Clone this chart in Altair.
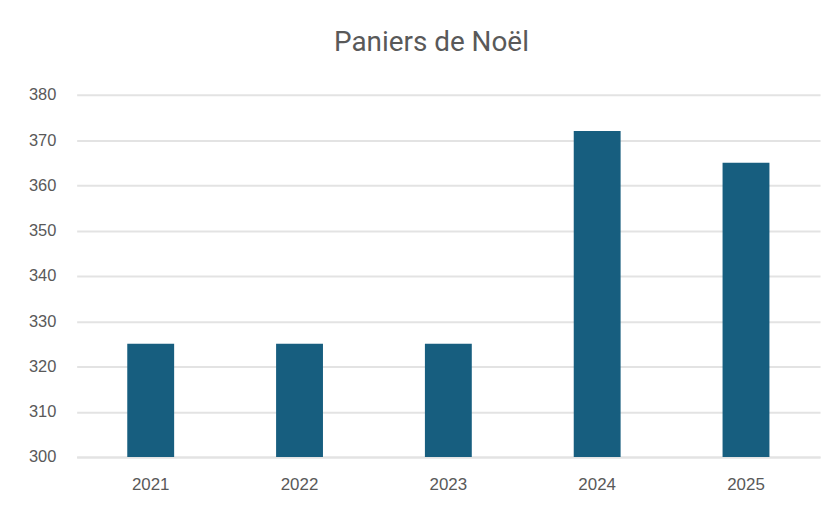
import altair as alt
import pandas as pd

years = ["2021", "2022", "2023", "2024", "2025"]
values = [325, 325, 325, 372, 365]
baseline = 300

df = pd.DataFrame({"year": years, "value": values})

chart = alt.Chart(df).mark_bar(color="#175e7f", clip=True).encode(
    x=alt.X("year:N", sort=years, title=None,
            scale=alt.Scale(paddingInner=0.685, paddingOuter=0.34),
            axis=alt.Axis(labelAngle=0, labelFont="Liberation Sans", labelFontSize=17,
                          labelColor="#595959", labelPadding=20, ticks=False,
                          domain=True, domainColor="#e3e3e3", domainWidth=2, grid=False)),
    y=alt.Y("value:Q", title=None,
            scale=alt.Scale(domain=[300, 380], nice=False, zero=False),
            axis=alt.Axis(values=[300, 310, 320, 330, 340, 350, 360, 370, 380],
                          labelFont="Liberation Sans", labelFontSize=16.5,
                          labelColor="#595959", labelPadding=21, ticks=False,
                          domain=False, grid=True, gridColor="#e3e3e3", gridWidth=2)),
    y2=alt.datum(baseline),
).properties(
    width=747, height=364,
    title=alt.TitleParams("Paniers de Noël", font="Roboto", fontSize=28, fontWeight="normal",
                          color="#595959", anchor="middle", dx=-17, offset=30),
    autosize=alt.AutoSizeParams(type="none"),
    padding={"left": 69, "top": 86, "right": 8, "bottom": 38},
).configure_view(stroke=None)

chart.save("out.html", embed_options={"renderer": "svg", "actions": False})
